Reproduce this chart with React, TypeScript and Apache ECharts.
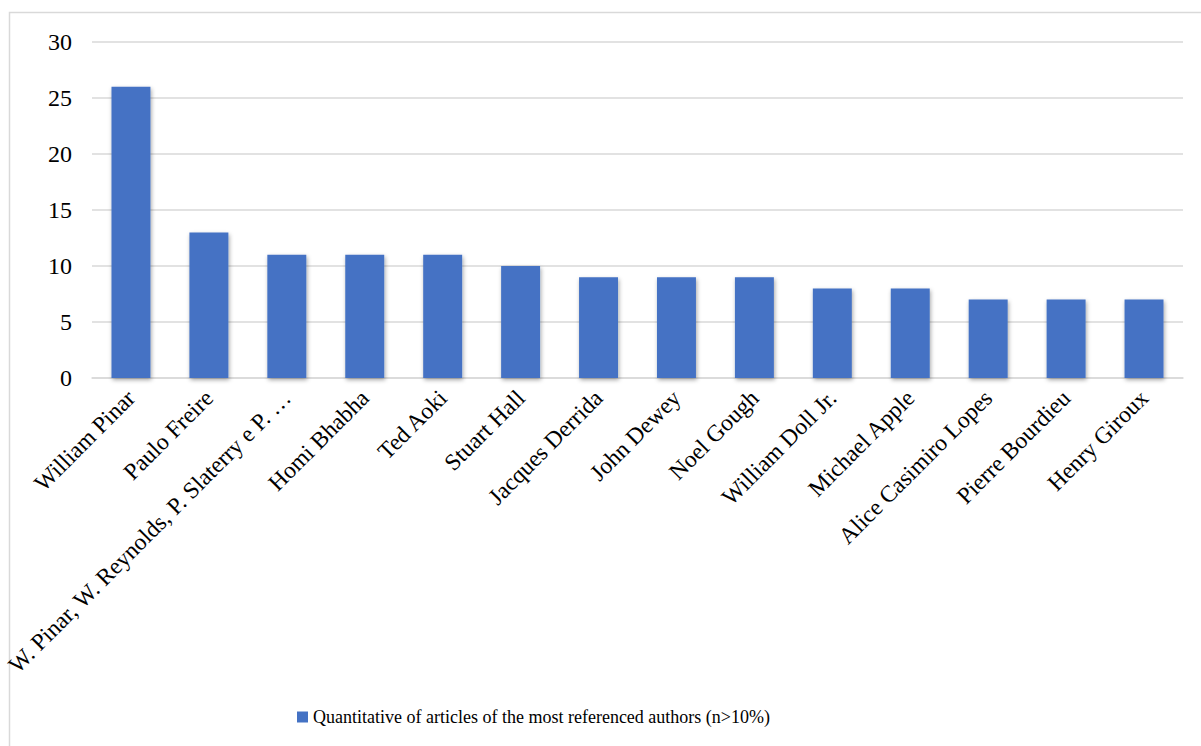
import React, { useEffect, useRef } from "react";
import * as echarts from "echarts";

const categories = [
  "William Pinar",
  "Paulo Freire",
  "W. Pinar, W. Reynolds, P. Slaterry e P. …",
  "Homi Bhabha",
  "Ted Aoki",
  "Stuart Hall",
  "Jacques Derrida",
  "John Dewey",
  "Noel Gough",
  "William Doll Jr.",
  "Michael Apple",
  "Alice Casimiro Lopes",
  "Pierre Bourdieu",
  "Henry Giroux",
];
const values = [26, 13, 11, 11, 11, 10, 9, 9, 9, 8, 8, 7, 7, 7];
const seriesName = "Quantitative of articles of the most referenced authors (n>10%)";

const FONT = "'Liberation Serif', 'Times New Roman', serif";

export default function App() {
  const ref = useRef<HTMLDivElement>(null);
  useEffect(() => {
    if (!ref.current) return;
    const chart = echarts.init(ref.current, undefined, { renderer: "svg" });
    chart.setOption({
      animation: false,
      backgroundColor: "#ffffff",
      graphic: [
        {
          type: "rect",
          shape: { x: 9.5, y: 12.5, width: 1200, height: 760 },
          style: { fill: "none", stroke: "#d9d9d9", lineWidth: 1.5 },
          silent: true,
        },
      ],
      grid: {
        left: 92,
        right: 18,
        top: 42,
        bottom: 368,
        containLabel: false,
        outerBoundsMode: "none",
      },
      legend: {
        left: 292,
        top: 703,
        itemWidth: 11,
        itemHeight: 11,
        icon: "rect",
        textStyle: { fontFamily: FONT, fontSize: 18, color: "#000" },
        data: [seriesName],
      },
      xAxis: {
        type: "category",
        data: categories,
        axisLine: { lineStyle: { color: "#d9d9d9", width: 1.5 } },
        axisTick: { show: false },
        axisLabel: {
          rotate: 45,
          interval: 0,
          margin: 16,
          fontFamily: FONT,
          fontSize: 23.5,
          color: "#000",
        },
      },
      yAxis: {
        type: "value",
        min: 0,
        max: 30,
        interval: 5,
        axisLine: { show: false },
        axisTick: { show: false },
        splitLine: { lineStyle: { color: "#d9d9d9", width: 1.5 } },
        axisLabel: {
          margin: 20,
          fontFamily: FONT,
          fontSize: 24,
          color: "#000",
        },
      },
      series: [
        {
          type: "bar",
          name: seriesName,
          data: values,
          barWidth: "50%",
          itemStyle: {
            color: "#4472C4",
            shadowBlur: 4,
            shadowColor: "rgba(0,0,0,0.35)",
            shadowOffsetX: 1,
            shadowOffsetY: 2,
          },
        },
      ],
    });
    return () => chart.dispose();
  }, []);
  return (
    <div style={{ position: "fixed", left: 0, top: 0, width: 1201, height: 746, background: "#fff" }}>
      <div ref={ref} style={{ width: 1201, height: 746 }} />
    </div>
  );
}
